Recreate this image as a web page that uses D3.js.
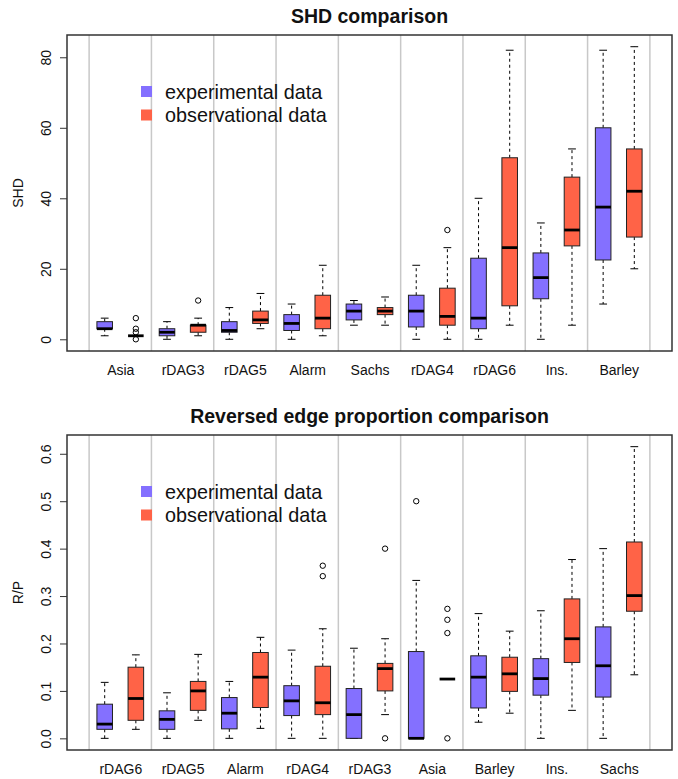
<!DOCTYPE html>
<html>
<head>
<meta charset="utf-8">
<script src="https://cdn.jsdelivr.net/npm/d3@7"></script>
<style>
  html, body { margin: 0; padding: 0; background: #fff; }
  svg { display: block; font-family: "Liberation Sans", Arial, Helvetica, sans-serif; }
</style>
</head>
<body>
<svg id="chart" width="678" height="779"></svg>
<script>
// ---------- DATA ----------
// Each box: [lower whisker, Q1, median, Q3, upper whisker]
const shdCategories = ["Asia", "rDAG3", "rDAG5", "Alarm", "Sachs", "rDAG4", "rDAG6", "Ins.", "Barley"];
const shdExperimental = [
  [1, 3, 3, 5, 6],
  [0, 1, 2, 3, 5],
  [0, 2, 2.5, 5, 9],
  [0, 2.5, 4.5, 7, 10],
  [4, 5.5, 8, 10, 11],
  [0, 3.5, 8, 12.5, 21],
  [0, 3, 6, 23, 40],
  [0, 11.5, 17.5, 24.5, 33],
  [10, 22.5, 37.5, 60, 82]
];
const shdObservational = [
  [1, 1, 1, 1, 1],
  [1, 2, 4, 4, 6],
  [3, 4.5, 5.5, 8, 13],
  [1, 3, 6, 12.5, 21],
  [4, 7, 8, 9, 12],
  [0, 4, 6.5, 14.5, 26],
  [4, 9.5, 26, 51.5, 82],
  [4, 26.5, 31, 46, 54],
  [20, 29, 42, 54, 83]
];
const shdOutliersExperimental = [[], [], [], [], [], [], [], [], []];
const shdOutliersObservational = [[6, 3, 2, 0], [11], [], [], [], [31], [], [], []];
const shdTicks = [0, 20, 40, 60, 80];

const rpCategories = ["rDAG6", "rDAG5", "Alarm", "rDAG4", "rDAG3", "Asia", "Barley", "Ins.", "Sachs"];
const rpExperimental = [
  [0, 0.019, 0.030, 0.072, 0.118],
  [0, 0.019, 0.040, 0.058, 0.096],
  [0, 0.020, 0.053, 0.086, 0.120],
  [0, 0.048, 0.079, 0.111, 0.186],
  [0, 0, 0.050, 0.105, 0.190],
  [0, 0, 0, 0.183, 0.333],
  [0.034, 0.064, 0.129, 0.174, 0.263],
  [0, 0.091, 0.126, 0.168, 0.269],
  [0, 0.087, 0.153, 0.235, 0.400]
];
const rpObservational = [
  [0.019, 0.038, 0.084, 0.150, 0.176],
  [0.038, 0.059, 0.100, 0.120, 0.177],
  [0.021, 0.065, 0.129, 0.181, 0.213],
  [0, 0.050, 0.075, 0.152, 0.231],
  [0.050, 0.100, 0.147, 0.158, 0.210],
  [0.125, 0.125, 0.125, 0.125, 0.125],
  [0.053, 0.099, 0.136, 0.171, 0.226],
  [0.059, 0.160, 0.210, 0.294, 0.377],
  [0.134, 0.268, 0.301, 0.414, 0.615]
];
const rpOutliersExperimental = [[], [], [], [], [], [0.5], [], [], []];
const rpOutliersObservational = [[], [], [], [0.342, 0.364], [0, 0.4], [0.273, 0.25, 0.222, 0], [], [], []];
const rpTicks = [0, 0.1, 0.2, 0.3, 0.4, 0.5, 0.6];

const seriesNames = ["experimental data", "observational data"];
const seriesColors = ["#8470FF", "#FF6347"];

// ---------- DRAW ----------
const svg = d3.select("#chart");

function drawPanel(opt) {
  const left = 67, right = 672;
  const top = opt.top, bottom = opt.bottom;
  const n = opt.categories.length;
  const g = svg.append("g");

  const x = d3.scaleLinear().domain([-0.21, 2 * n + 1.21]).range([left, right]);
  const allVals = opt.exp.flat().concat(opt.obs.flat(), opt.outExp.flat(), opt.outObs.flat());
  const lo = d3.min(allVals), hi = d3.max(allVals);
  const pad = (hi - lo) * 0.04;
  const y = d3.scaleLinear().domain([lo - pad, hi + pad]).range([bottom, top]);

  // group separators
  const seps = d3.range(n + 1).map(i => 2 * i + 0.5);
  g.selectAll("line.sep").data(seps).enter().append("line")
    .attr("x1", d => x(d)).attr("x2", d => x(d))
    .attr("y1", top).attr("y2", bottom)
    .attr("stroke", "#c8c8c8").attr("stroke-width", 1.5);

  // boxes
  const boxes = [];
  opt.categories.forEach((c, i) => {
    boxes.push({ pos: 2 * i + 1, s: opt.exp[i], out: opt.outExp[i], color: seriesColors[0] });
    boxes.push({ pos: 2 * i + 2, s: opt.obs[i], out: opt.outObs[i], color: seriesColors[1] });
  });
  const bw = 0.25, cw = 0.125;
  const bg = g.selectAll("g.box").data(boxes).enter().append("g");
  // whiskers (dashed)
  bg.append("line").attr("x1", d => x(d.pos)).attr("x2", d => x(d.pos))
    .attr("y1", d => y(d.s[3])).attr("y2", d => y(d.s[4]))
    .attr("stroke", "#000").attr("stroke-width", 1).attr("stroke-dasharray", "3,3");
  bg.append("line").attr("x1", d => x(d.pos)).attr("x2", d => x(d.pos))
    .attr("y1", d => y(d.s[1])).attr("y2", d => y(d.s[0]))
    .attr("stroke", "#000").attr("stroke-width", 1).attr("stroke-dasharray", "3,3");
  // caps
  [0, 4].forEach(k => {
    bg.append("line").attr("x1", d => x(d.pos - cw)).attr("x2", d => x(d.pos + cw))
      .attr("y1", d => y(d.s[k])).attr("y2", d => y(d.s[k]))
      .attr("stroke", "#000").attr("stroke-width", 1);
  });
  // box
  bg.append("rect")
    .attr("x", d => x(d.pos - bw)).attr("width", d => x(d.pos + bw) - x(d.pos - bw))
    .attr("y", d => y(d.s[3])).attr("height", d => y(d.s[1]) - y(d.s[3]))
    .attr("fill", d => d.color).attr("stroke", "#222").attr("stroke-width", 1);
  // median
  bg.append("line").attr("x1", d => x(d.pos - bw)).attr("x2", d => x(d.pos + bw))
    .attr("y1", d => y(d.s[2])).attr("y2", d => y(d.s[2]))
    .attr("stroke", "#000").attr("stroke-width", 2.8);
  // outliers
  bg.selectAll("circle").data(d => d.out.map(v => ({ pos: d.pos, v }))).enter().append("circle")
    .attr("cx", d => x(d.pos)).attr("cy", d => y(d.v)).attr("r", 2.7)
    .attr("fill", "none").attr("stroke", "#000").attr("stroke-width", 1);

  // frame
  g.append("rect").attr("x", left).attr("y", top).attr("width", right - left).attr("height", bottom - top)
    .attr("fill", "none").attr("stroke", "#333").attr("stroke-width", 1.5);

  // y axis
  const ya = g.append("g").attr("transform", `translate(${left},0)`)
    .call(d3.axisLeft(y).tickValues(opt.ticks).tickSize(7).tickFormat(opt.tickFormat));
  ya.select(".domain").remove();
  ya.selectAll("line").attr("stroke", "#333");
  ya.selectAll("text").attr("x", 0).attr("y", -16).attr("dy", 0)
    .attr("text-anchor", "middle").attr("transform", "rotate(-90)")
    .attr("font-size", 14).attr("fill", "#111").attr("font-family", null);

  // x axis labels
  const xa = g.append("g").attr("transform", `translate(0,${bottom})`)
    .call(d3.axisBottom(x).tickValues(opt.categories.map((c, i) => 2 * i + 1.5)).tickSize(0)
      .tickFormat((d, i) => opt.categories[i]));
  xa.select(".domain").remove();
  xa.selectAll("text").attr("y", 24).attr("dy", 0).attr("font-size", 14)
    .attr("fill", "#111").attr("font-family", null);

  // title
  g.append("text").attr("x", (left + right) / 2).attr("y", top - 12.5)
    .attr("text-anchor", "middle").attr("font-weight", "bold").attr("font-size", 19.5)
    .attr("fill", "#111").text(opt.title);

  // y label
  g.append("text").attr("transform", `translate(23,${(top + bottom) / 2}) rotate(-90)`)
    .attr("text-anchor", "middle").attr("font-size", 14).attr("fill", "#111").text(opt.ylabel);

  // legend
  seriesNames.forEach((name, k) => {
    g.append("rect").attr("x", 141).attr("y", top + 51 + 23.5 * k).attr("width", 11).attr("height", 11)
      .attr("fill", seriesColors[k]);
    g.append("text").attr("x", 165).attr("y", top + 64 + 23 * k).attr("font-size", 19.8)
      .attr("fill", "#111").text(name);
  });
}

drawPanel({
  top: 35, bottom: 351, title: "SHD comparison", ylabel: "SHD",
  categories: shdCategories, exp: shdExperimental, obs: shdObservational,
  outExp: shdOutliersExperimental, outObs: shdOutliersObservational,
  ticks: shdTicks, tickFormat: d3.format("d")
});
drawPanel({
  top: 435, bottom: 750, title: "Reversed edge proportion comparison", ylabel: "R/P",
  categories: rpCategories, exp: rpExperimental, obs: rpObservational,
  outExp: rpOutliersExperimental, outObs: rpOutliersObservational,
  ticks: rpTicks, tickFormat: d3.format(".1f")
});
</script>
</body>
</html>
